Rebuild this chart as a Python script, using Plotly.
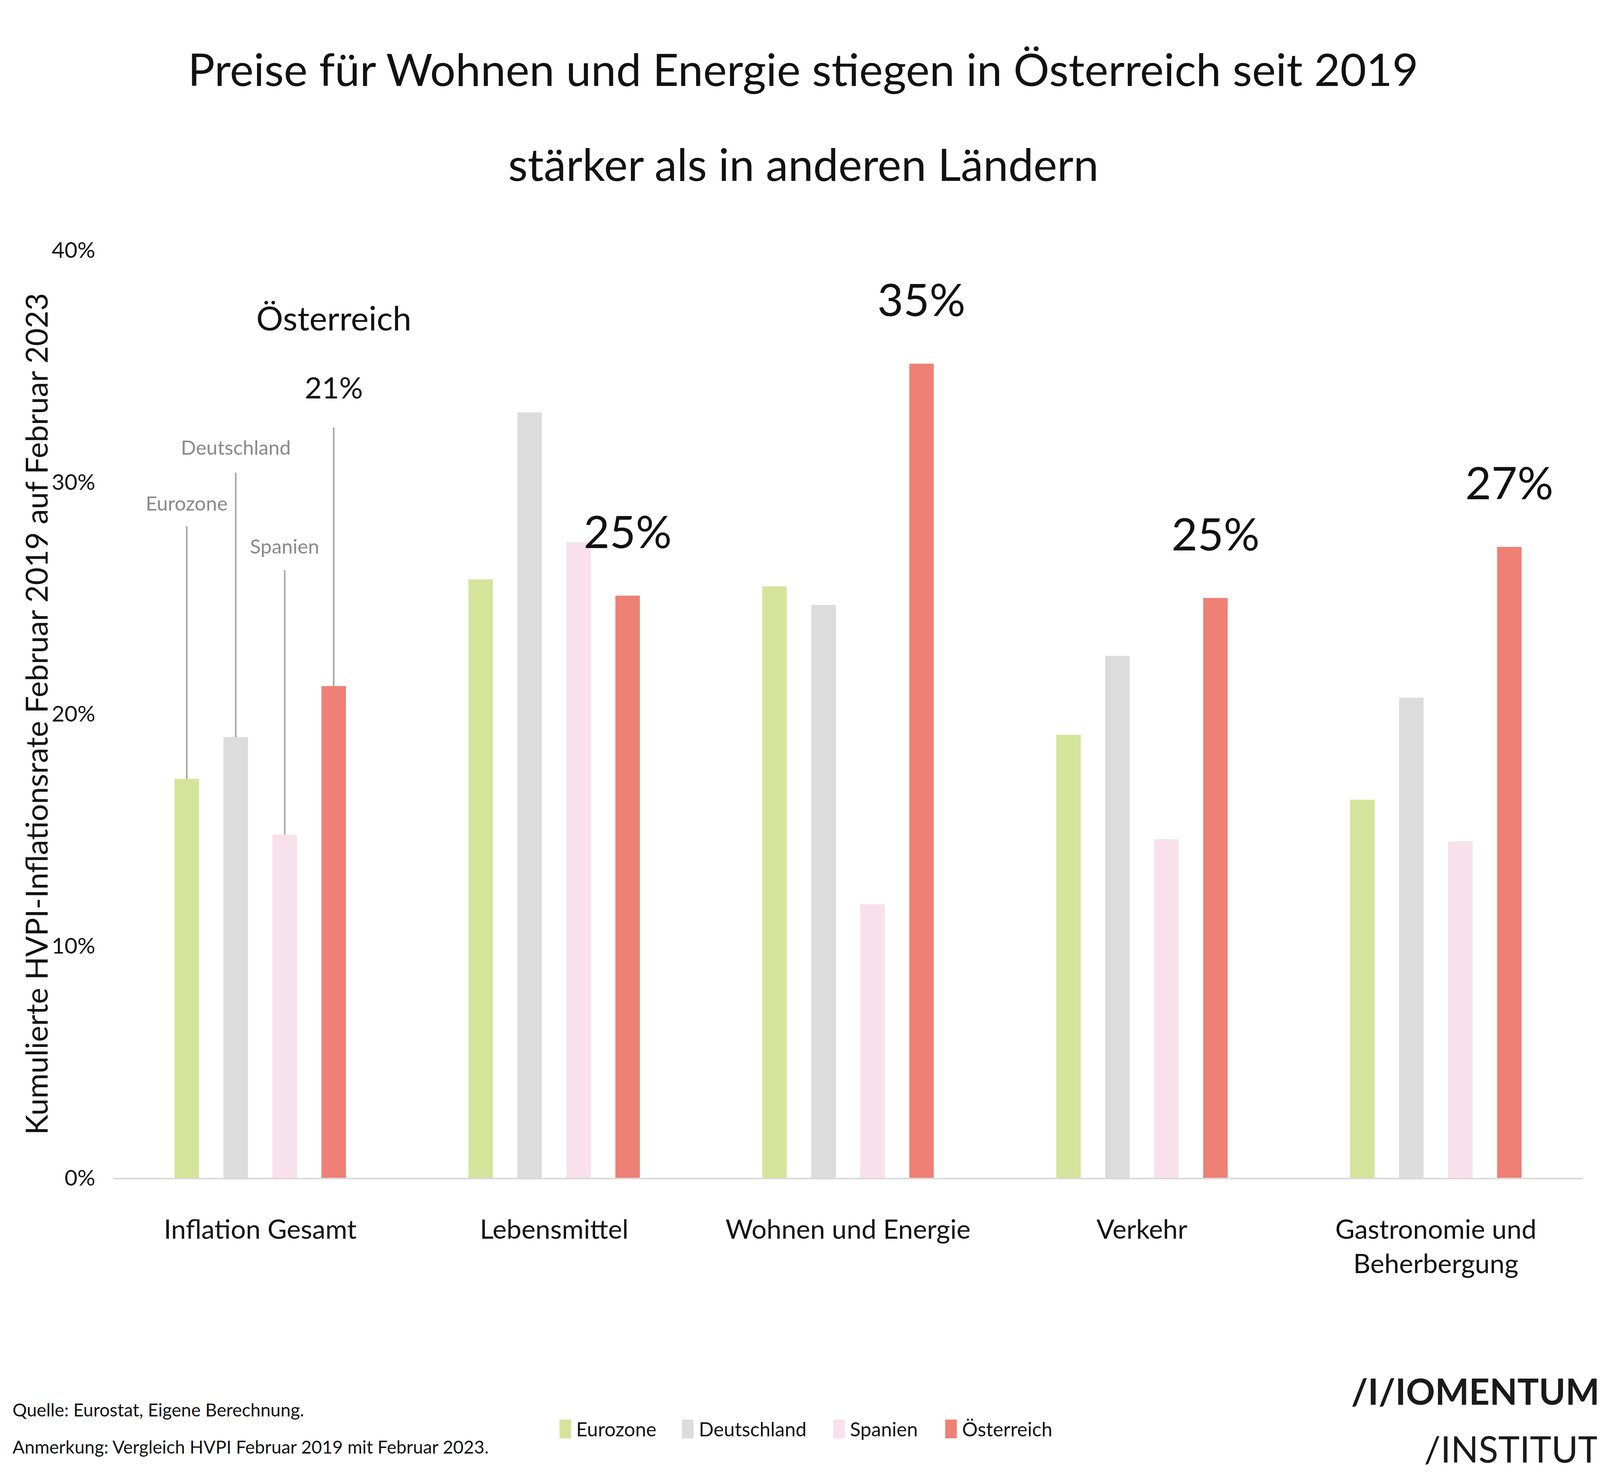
import plotly.graph_objects as go

# ---------------- data ----------------
categories = ["Inflation Gesamt", "Lebensmittel", "Wohnen und Energie", "Verkehr",
              "Gastronomie und<br>Beherbergung"]
series_names = ["Eurozone", "Deutschland", "Spanien", "Österreich"]
eurozone = [17.2, 25.8, 25.5, 19.1, 16.3]
deutschland = [19.0, 33.0, 24.7, 22.5, 20.7]
spanien = [14.8, 27.4, 11.8, 14.6, 14.5]
oesterreich = [21.2, 25.1, 35.1, 25.0, 27.2]
y_tick_vals = [0, 10, 20, 30, 40]
y_tick_text = ["0%", "10%", "20%", "30%", "40%"]

title_line1 = "Preise für Wohnen und Energie stiegen in Österreich seit 2019"
title_line2 = "stärker als in anderen Ländern"
y_title = "Kumulierte HVPI-Inflationsrate Februar 2019 auf Februar 2023"
source_lines = ["Quelle: Eurostat, Eigene Berechnung.",
                "Anmerkung: Vergleich HVPI Februar 2019 mit Februar 2023."]

# ---------------- style / layout ----------------
colors = ["#d6e39b", "#dcdcdc", "#f8e1ea", "#ee8075"]
FONT = "Lato"
REF_W = 6600
W, H = 4096, 3781          # the browser viewport is 4096 px wide
SX = W / REF_W             # horizontal scale vs. reference
ML, MR, MT, MB = round(455 * SX), round(83 * SX), 632, 774
PW, PH = W - ML - MR, H - MT - MB
BARGAP, GROUPGAP = 1 / 3, 0.5


def px_x(ref_px):
    """reference x pixel -> paper x"""
    return (ref_px * SX - ML) / PW


def px_y(py):
    return (H - MB - py) / PH


series = [eurozone, deutschland, spanien, oesterreich]

fig = go.Figure()
for name, vals, col in zip(series_names, series, colors):
    fig.add_trace(go.Bar(x=categories, y=vals, name=name, marker_color=col,
                         marker_line_width=0, showlegend=False))

gw = 1 - BARGAP
offs = [-gw / 2 + gw / 4 * (j + 0.5) for j in range(4)]

annotations = []
shapes = []

# ---- first group: leader lines with series labels ----
label_y = [29.1, 31.5, 27.25]
line_top = [28.1, 30.4, 26.2]
for j in range(3):
    shapes.append(dict(type="line", xref="x", yref="y",
                       x0=offs[j], x1=offs[j], y0=series[j][0], y1=line_top[j],
                       line=dict(color="#a6a6a6", width=4)))
    annotations.append(dict(x=offs[j], y=label_y[j], xref="x", yref="y",
                            text=series_names[j], showarrow=False,
                            font=dict(family=FONT, size=51, color="#8a8a8a"),
                            xanchor="center", yanchor="middle"))
shapes.append(dict(type="line", xref="x", yref="y",
                   x0=offs[3], x1=offs[3], y0=oesterreich[0], y1=32.35,
                   line=dict(color="#a6a6a6", width=4)))
annotations.append(dict(x=offs[3], y=37.1, xref="x", yref="y", text=series_names[3],
                        showarrow=False, font=dict(family=FONT, size=86, color="#111111"),
                        xanchor="center", yanchor="middle"))
annotations.append(dict(x=offs[3], y=34.1, xref="x", yref="y",
                        text=f"{round(oesterreich[0])}%",
                        showarrow=False, font=dict(family=FONT, size=76, color="#111111"),
                        xanchor="center", yanchor="middle"))

# ---- big value labels over Österreich bars ----
for i in range(1, len(categories)):
    annotations.append(dict(x=i + offs[3], y=oesterreich[i], xref="x", yref="y",
                            text=f"{round(oesterreich[i])}%", showarrow=False,
                            font=dict(family=FONT, size=115, color="#111111"),
                            xanchor="center", yanchor="bottom", yshift=96))

# ---- second title line ----
annotations.append(dict(x=px_x(REF_W / 2), y=px_y(410), xref="paper", yref="paper",
                        text=title_line2, showarrow=False,
                        font=dict(family=FONT, size=115, color="#111111"),
                        xanchor="center", yanchor="middle"))

# ---- y axis title ----
annotations.append(dict(x=px_x(135), y=0.5, xref="paper", yref="paper", text=y_title,
                        textangle=-90, showarrow=False,
                        font=dict(family=FONT, size=78, color="#111111"),
                        xanchor="center", yanchor="middle"))

# ---- source notes ----
for t, py in zip(source_lines, [3600, 3695]):
    annotations.append(dict(x=px_x(35), y=px_y(py), xref="paper", yref="paper", text=t,
                            showarrow=False, font=dict(family=FONT, size=46, color="#111111"),
                            xanchor="left", yanchor="middle"))

# ---- manual legend ----
swatch_x = [2295, 2800, 3424, 3886]
for name, col, sx in zip(series_names, colors, swatch_x):
    shapes.append(dict(type="rect", xref="paper", yref="paper",
                       x0=px_x(sx), x1=px_x(sx + 48), y0=px_y(3674), y1=px_y(3626),
                       fillcolor=col, line=dict(width=0)))
    annotations.append(dict(x=px_x(sx + 66), y=px_y(3650), xref="paper", yref="paper",
                            text=name, showarrow=False,
                            font=dict(family=FONT, size=50, color="#111111"),
                            xanchor="left", yanchor="middle"))

# ---- logo ----
annotations.append(dict(x=px_x(6589), y=px_y(3552), xref="paper", yref="paper",
                        text="<b>/I/IOMENTUM</b>", showarrow=False,
                        font=dict(family=FONT, size=92, color="#1a1a1a"),
                        xanchor="right", yanchor="middle"))
annotations.append(dict(x=px_x(6589), y=px_y(3700), xref="paper", yref="paper",
                        text="/INSTITUT", showarrow=False,
                        font=dict(family=FONT, size=93, color="#1a1a1a"),
                        xanchor="right", yanchor="middle"))

fig.update_layout(
    width=W, height=H,
    margin=dict(l=ML, r=MR, t=MT, b=MB),
    paper_bgcolor="white", plot_bgcolor="white",
    barmode="group", bargap=BARGAP, bargroupgap=GROUPGAP,
    title=dict(text=title_line1, x=0.5, xref="container", xanchor="center",
               y=1 - 172 / H, yref="container", yanchor="middle",
               font=dict(family=FONT, size=115, color="#111111")),
    font=dict(family=FONT, color="#111111"),
    annotations=annotations, shapes=shapes,
    showlegend=False,
)
fig.update_xaxes(showline=True, linecolor="#d9d9d9", linewidth=4, ticks="",
                 showgrid=False, tickfont=dict(family=FONT, size=68, color="#111111"),
                 ticklabelstandoff=70, range=[-0.5, len(categories) - 0.5])
fig.update_yaxes(range=[0, 40], tickvals=y_tick_vals, ticktext=y_tick_text,
                 showgrid=False, zeroline=False, showline=False, ticks="",
                 tickfont=dict(family=FONT, size=57, color="#111111"),
                 ticklabelstandoff=45)

fig.write_html("out.html")
